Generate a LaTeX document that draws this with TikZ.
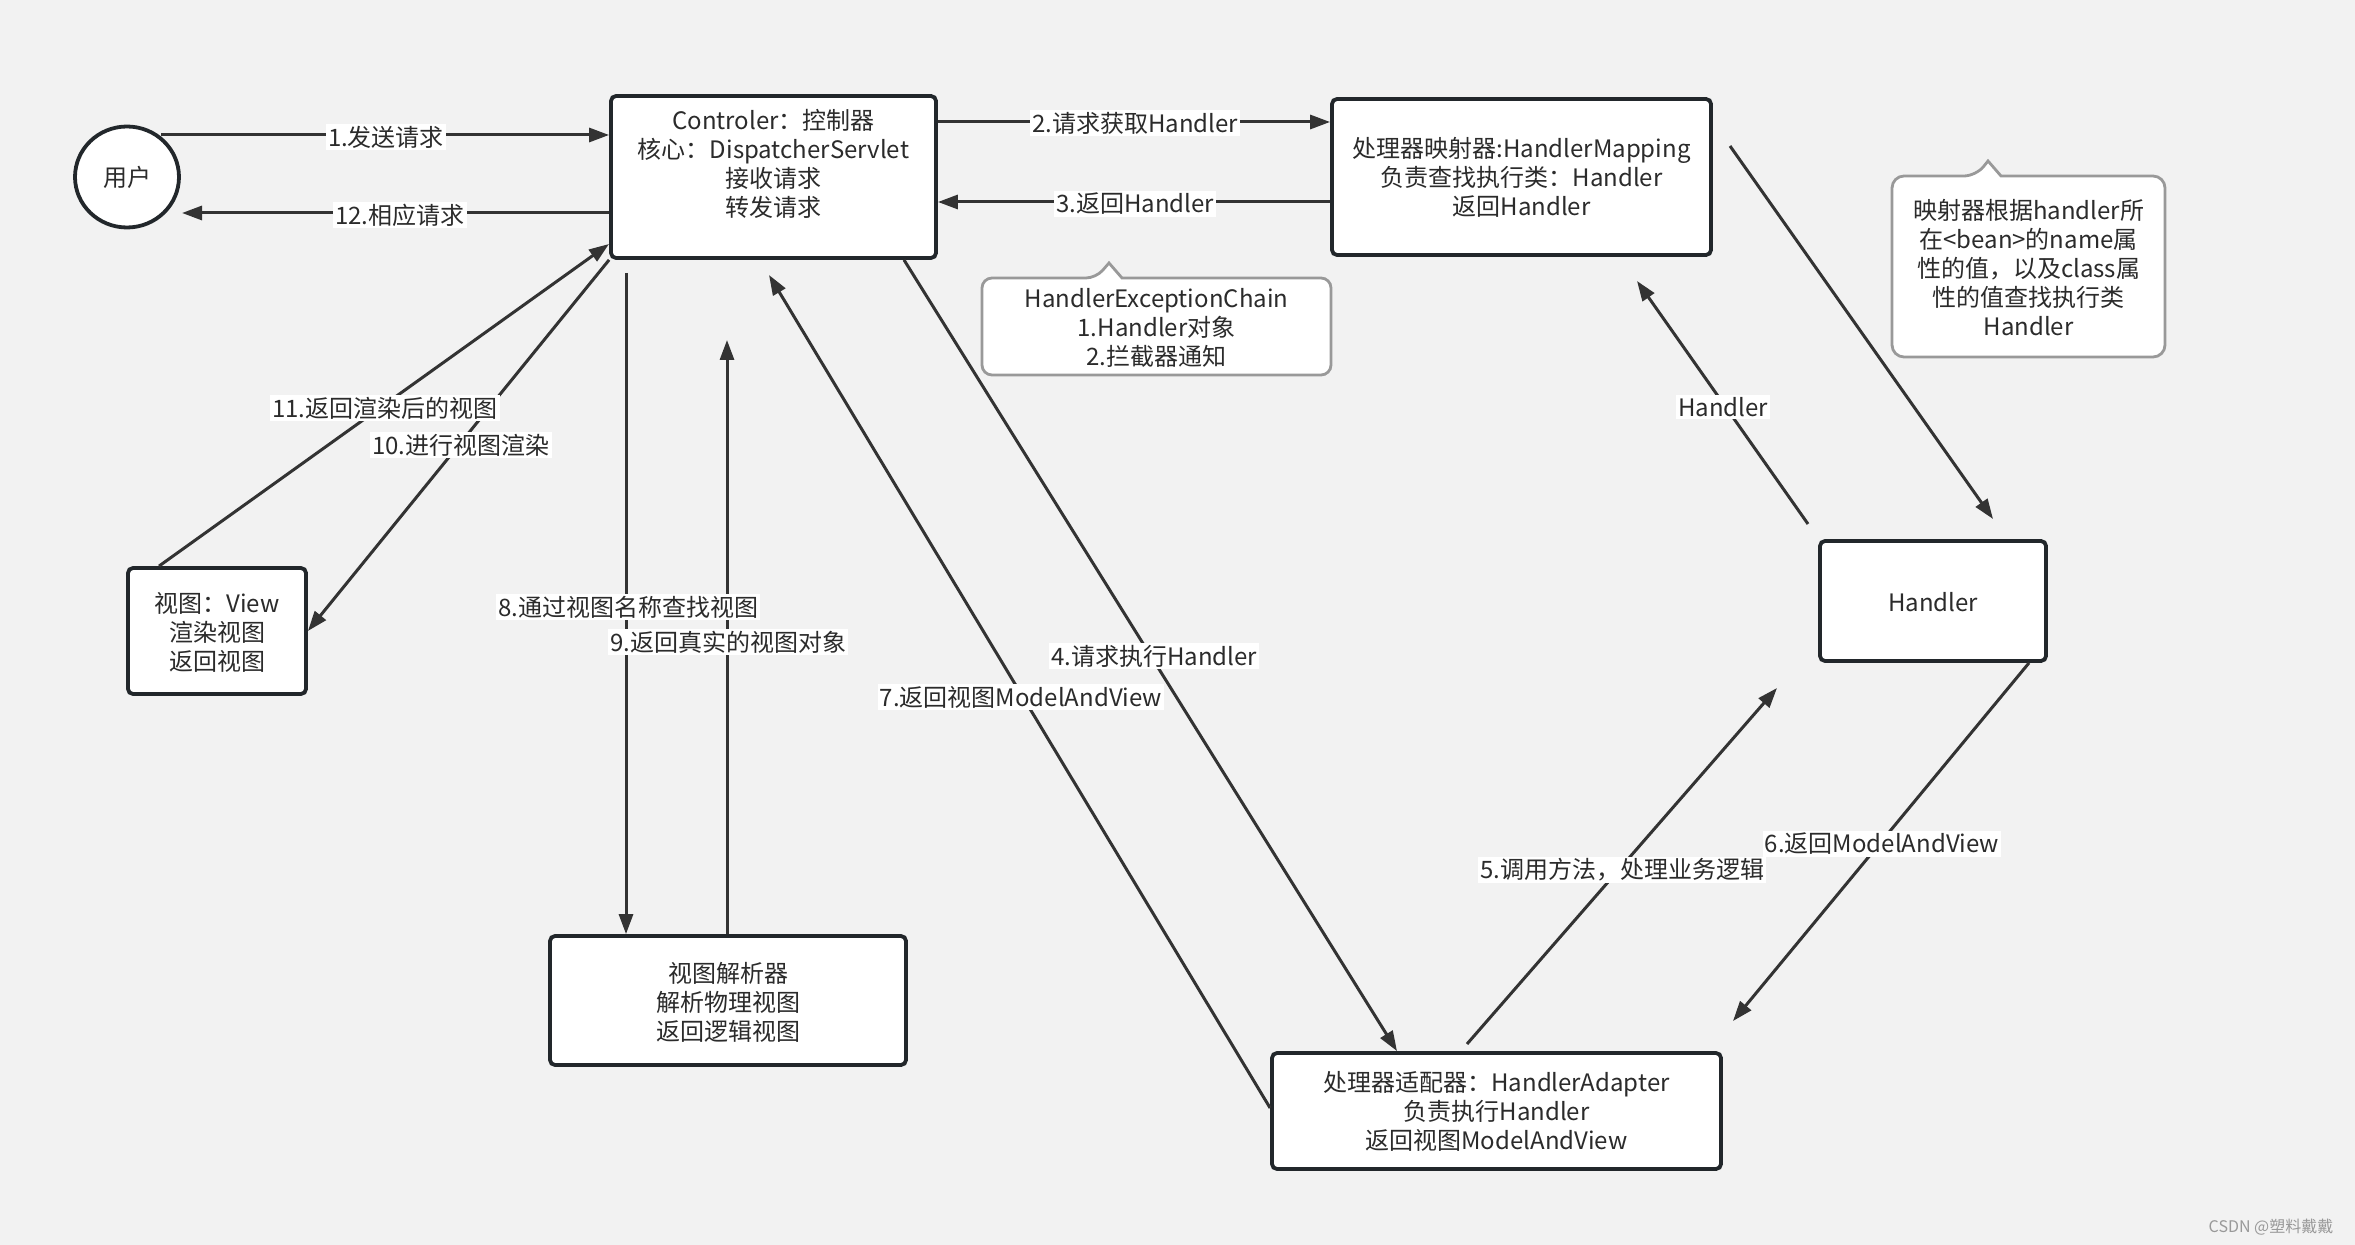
\documentclass[tikz,border=0pt]{standalone}
\usepackage{fontspec}
\setmainfont{Noto Sans CJK SC}
\usetikzlibrary{shapes.geometric,arrows.meta,calc}
\definecolor{bg}{HTML}{F2F2F2}
\definecolor{boxline}{HTML}{22272B}
\definecolor{conn}{HTML}{333333}
\definecolor{txt}{HTML}{2B2B2B}
\definecolor{callline}{HTML}{999999}
\tikzset{
  box/.style={draw=boxline, line width=1.9pt, fill=white, rounded corners=2.5pt, inner sep=0pt},
  boxtext/.style={align=center, text=txt, font=\fontsize{12pt}{14.5pt}\selectfont, inner sep=0pt},
  conline/.style={draw=conn, line width=1.5pt, -{Triangle[length=10pt,width=7pt]}},
  lbl/.style={fill=white, text=txt, inner sep=1pt, font=\fontsize{12pt}{14pt}\selectfont},
  callout/.style={draw=callline, line width=1.4pt, fill=white},
}
\begin{document}
\begin{tikzpicture}[x=0.5pt,y=-0.5pt]
\fill[bg] (0,0) rectangle (2355,1245);
\useasboundingbox (0,0) rectangle (2355,1245);

% callouts
\path[callout, rounded corners=5pt] (982,326) -- (982,278) -- (1096,278)
  [sharp corners] -- (1109,263) -- (1122,278) [rounded corners=5pt] -- (1331,278) -- (1331,375) -- (982,375) -- cycle;
\node[boxtext] (extext) at (1156.5,328) {HandlerExceptionChain\\1.Handler对象\\2.拦截器通知};

\path[callout, rounded corners=6pt] (1892,266) -- (1892,176) -- (1976,176)
  [sharp corners] -- (1988,161) -- (2001,176) [rounded corners=6pt] -- (2165,176) -- (2165,357) -- (1892,357) -- cycle;
\node[boxtext] (notetext) at (2028.5,268) {映射器根据handler所\\在<bean>的name属\\性的值，以及class属\\性的值查找执行类\\Handler};

% nodes
\node[ellipse, draw=boxline, line width=1.9pt, fill=white, minimum width=52pt, minimum height=50.5pt, inner sep=0pt] (user) at (127,177) {};
\node[boxtext] (usertext) at (127,177) {用户};

\node[box, minimum width=162.5pt, minimum height=81pt] (ctrl) at (773.5,177) {};
\node[boxtext] (ctrltext) at (773.5,163.5) {Controler：控制器\\核心：DispatcherServlet\\接收请求\\转发请求};

\node[box, minimum width=189.5pt, minimum height=78pt] (map) at (1521.5,177) {};
\node[boxtext] (maptext) at (1521.5,177) {处理器映射器:HandlerMapping\\负责查找执行类：Handler\\返回Handler};

\node[box, minimum width=113pt, minimum height=60pt] (handler) at (1933,601) {};
\node[boxtext] (handlertext) at (1933,602) {Handler};

\node[box, minimum width=89pt, minimum height=63pt] (view) at (217,631) {};
\node[boxtext] (viewtext) at (217,632) {视图：View\\渲染视图\\返回视图};

\node[box, minimum width=178pt, minimum height=64.5pt] (viewres) at (728,1000.5) {};
\node[boxtext] (viewrestext) at (728,1002) {视图解析器\\解析物理视图\\返回逻辑视图};

\node[box, minimum width=224.5pt, minimum height=58pt] (adapter) at (1496.5,1111) {};
\node[boxtext] (adaptertext) at (1496.5,1111) {处理器适配器：HandlerAdapter\\负责执行Handler\\返回视图ModelAndView};

% free-end coordinates
\coordinate (u1) at (161,135);
\coordinate (u12) at (182,213);
\coordinate (y2) at (0,122);
\coordinate (y3) at (0,202);
\coordinate (m5s) at (1730,146);
\coordinate (m5e) at (1993,519);
\coordinate (h6s) at (1808,524);
\coordinate (h6e) at (1637,281);
\coordinate (c4s) at (904,0);
\coordinate (c4e) at (1397,0);
\coordinate (a7s) at (0,1108);
\coordinate (a7e) at (769,275);
\coordinate (a5s) at (1467,1044);
\coordinate (a5e) at (1777,688);
\coordinate (h6bs) at (2029,0);
\coordinate (h6be) at (1733,1021);
\coordinate (v8s) at (626,273);
\coordinate (v9e) at (727,340);
\coordinate (v11s) at (159,0);
\coordinate (v11e) at (609,244);

% connectors
\draw[conline] (u1) -- (ctrl.west |- u1);
\draw[conline] (ctrl.west |- u12) -- (u12);
\draw[conline] (ctrl.east |- y2) -- (map.west |- y2);
\draw[conline] (map.west |- y3) -- (ctrl.east |- y3);
\draw[conline] (m5s) -- (m5e);
\draw[conline] (h6s) -- (h6e);
\draw[conline] (ctrl.south -| c4s) -- (adapter.north -| c4e);
\draw[conline] (adapter.west |- a7s) -- (a7e);
\draw[conline] (a5s) -- (a5e);
\draw[conline] (handler.south -| h6bs) -- (h6be);
\draw[conline] (v8s) -- (viewres.north -| v8s);
\draw[conline] (viewres.north -| v9e) -- (v9e);
\draw[conline] (view.north -| v11s) -- (v11e);
\draw[conline] (ctrl.south west) -- (view.east);

% labels
\node[lbl] (l1) at (386,137) {1.发送请求};
\node[lbl] (l12) at (400,215) {12.相应请求};
\node[lbl] (l2) at (1135,123) {2.请求获取Handler};
\node[lbl] (l3) at (1135,204) {3.返回Handler};
\node[lbl] (lh) at (1723,407) {Handler};
\node[lbl] (l4) at (1154,656) {4.请求执行Handler};
\node[lbl] (l7) at (1021,697) {7.返回视图ModelAndView};
\node[lbl] (l5) at (1622,870) {5.调用方法，处理业务逻辑};
\node[lbl] (l6) at (1882,844) {6.返回ModelAndView};
\node[lbl] (l8) at (628,607) {8.通过视图名称查找视图};
\node[lbl] (l9) at (728,642) {9.返回真实的视图对象};
\node[lbl] (l11) at (385,408) {11.返回渲染后的视图};
\node[lbl] (l10) at (461,445) {10.进行视图渲染};

\node[text=black!40, font=\fontsize{8pt}{9pt}\selectfont, inner sep=0pt] (wm) at (2271,1227) {CSDN @塑料戴戴};
\end{tikzpicture}
\end{document}
